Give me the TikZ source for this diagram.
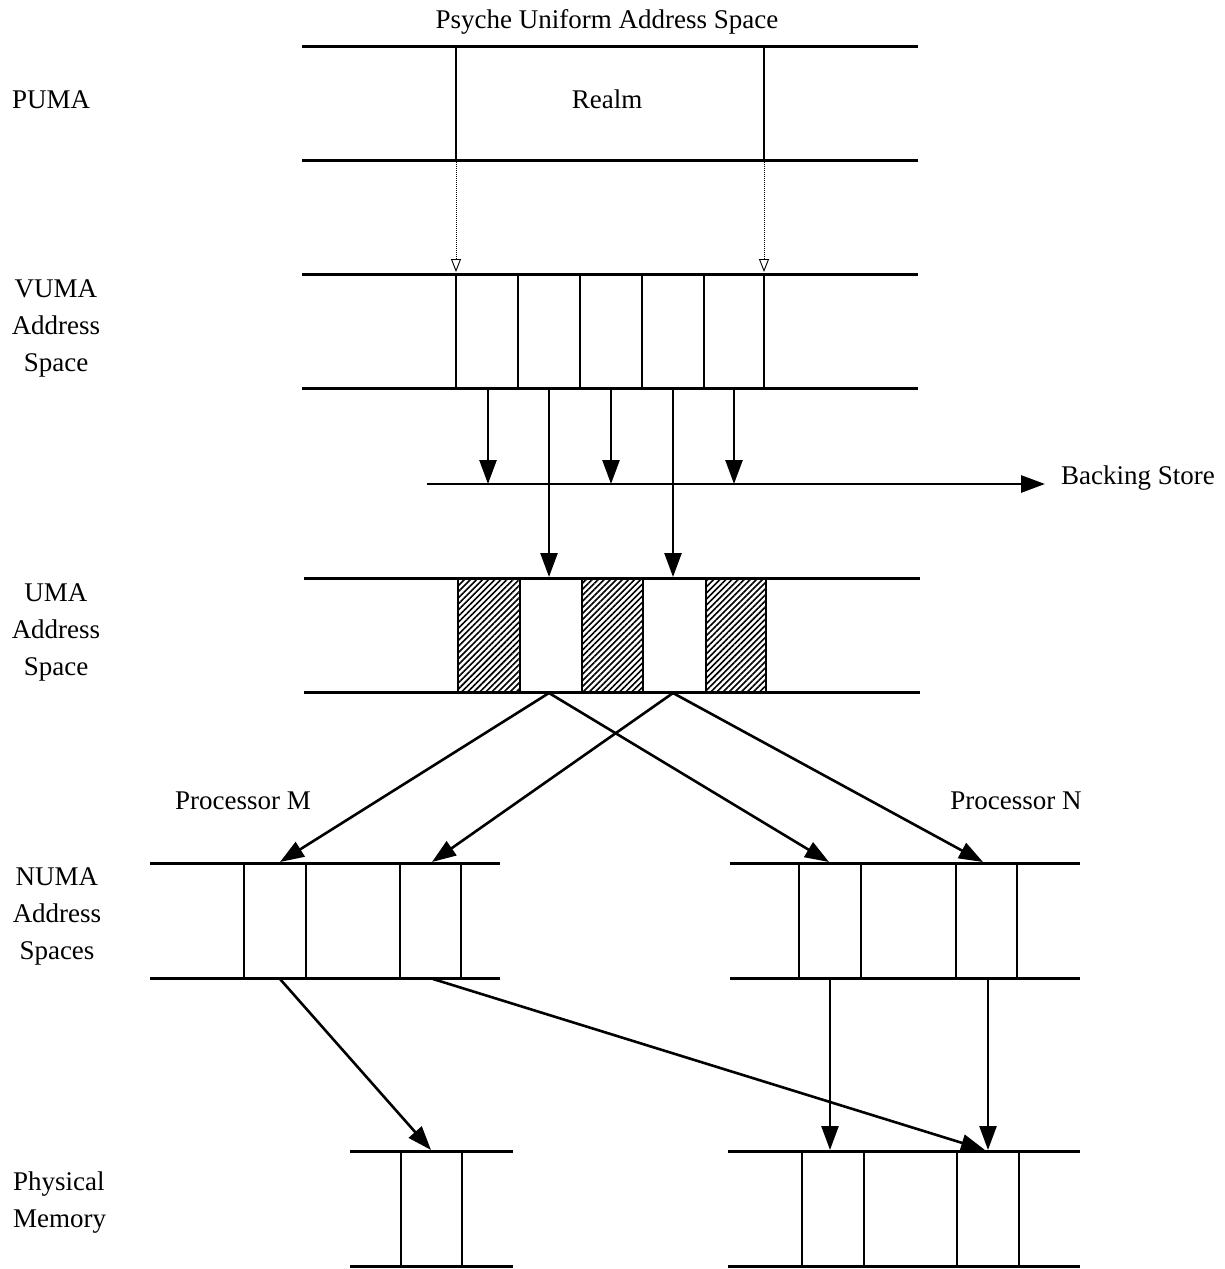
\documentclass[tikz,border=0pt]{standalone}
\usepackage{fontspec}
\setmainfont{Liberation Serif}
\usetikzlibrary{arrows.meta,patterns.meta}
\begin{document}
\begin{tikzpicture}[x=1pt,y=-1pt,
  band/.style={line width=3pt},
  cell/.style={line width=2.5pt},
  arr/.style={line width=2.6pt,-{Triangle[length=24pt,width=17pt]}},
  dotarr/.style={line width=1pt,densely dotted,-{Triangle[length=13pt,width=10pt,open,line width=0.9pt]}},
  hatch/.style={pattern={Lines[angle=45,distance=4.3pt,line width=1.6pt]}},
  lbl/.style={font=\fontsize{27}{37}\selectfont,inner sep=0pt},
  mlbl/.style={lbl,align=center},
  llbl/.style={lbl,align=left,anchor=west}]
\useasboundingbox (0,0) rectangle (1225,1269);

% ---- labels
\node[lbl] (title) at (607,22) {Psyche Uniform Address Space};
\node[llbl] (puma) at (12,100) {PUMA};
\node[lbl] (realm) at (607,99) {Realm};
\node[mlbl] (vuma) at (56,328) {VUMA\\Address\\Space};
\node[mlbl] (uma) at (56,632) {UMA\\Address\\Space};
\node[mlbl] (numa) at (57,916) {NUMA\\Address\\Spaces};
\node[llbl] (phys) at (13,1203) {Physical\\Memory};
\node[lbl] (pm) at (243,801) {Processor M};
\node[lbl] (pn) at (1016,801) {Processor N};
\node[llbl] (bs) at (1061,478) {Backing Store};

% ---- PUMA band
\draw[band] (302,46) -- (918,46);
\draw[band] (302,160) -- (918,160);
\draw[cell] (456,46) -- (456,160);
\draw[cell] (764,46) -- (764,160);

% ---- dotted mapping
\coordinate (p1) at (456,162);
\coordinate (p2) at (764,162);
\coordinate (v1) at (456,272);
\coordinate (v2) at (764,272);
\draw[dotarr] (p1) -- (v1);
\draw[dotarr] (p2) -- (v2);

% ---- VUMA band
\draw[band] (302,274) -- (918,274);
\draw[band] (302,388) -- (918,388);
\foreach \x in {456,518,580,642,704,764} \draw[cell] (\x,274) -- (\x,388);

% ---- backing store
\coordinate (bsl) at (427,484);
\coordinate (bsr) at (1045,484);
\draw[line width=2.8pt,-{Triangle[length=24pt,width=17pt]}] (bsl) -- (bsr);
\foreach \x in {488,611,734}{
  \coordinate (a\x) at (\x,389);
  \coordinate (b\x) at (\x,484);
  \draw[arr] (a\x) -- (b\x);
}

% ---- UMA band
\fill[hatch] (458,578) rectangle (520,692);
\fill[hatch] (582,578) rectangle (643,692);
\fill[hatch] (706,578) rectangle (766,692);
\draw[band] (304,578) -- (920,578);
\draw[band] (304,692) -- (920,692);
\foreach \x in {458,520,582,643,706,766} \draw[cell] (\x,578) -- (\x,692);

\coordinate (s1) at (549,389);
\coordinate (s2) at (673,389);
\coordinate (t1) at (549,577);
\coordinate (t2) at (673,577);
\draw[arr] (s1) -- (t1);
\draw[arr] (s2) -- (t2);

% ---- UMA -> NUMA
\coordinate (u1) at (549,693);
\coordinate (u2) at (673,693);
\coordinate (nm1) at (280,862);
\coordinate (nm2) at (432,862);
\coordinate (nn1) at (829,862);
\coordinate (nn2) at (983,862);
\draw[arr] (u1) -- (nm1);
\draw[arr] (u1) -- (nn1);
\draw[arr] (u2) -- (nm2);
\draw[arr] (u2) -- (nn2);

% ---- NUMA bands
\draw[band] (150,863) -- (500,863);
\draw[band] (150,978) -- (500,978);
\foreach \x in {244,306,400,461} \draw[cell] (\x,863) -- (\x,978);
\draw[band] (730,863) -- (1080,863);
\draw[band] (730,978) -- (1080,978);
\foreach \x in {799,861,956,1017} \draw[cell] (\x,863) -- (\x,978);

% ---- NUMA -> physical
\coordinate (m1) at (280,979);
\coordinate (m2) at (433,979);
\coordinate (n1) at (830,979);
\coordinate (n2) at (988,979);
\coordinate (q1) at (431,1150);
\coordinate (q2) at (985,1150);
\coordinate (r1) at (830,1150);
\coordinate (r2) at (988,1150);
\draw[arr] (m1) -- (q1);
\draw[arr] (m2) -- (q2);
\draw[arr] (n1) -- (r1);
\draw[arr] (n2) -- (r2);

% ---- physical memory
\draw[band] (350,1151) -- (513,1151);
\draw[band] (350,1266) -- (513,1266);
\foreach \x in {401,462} \draw[cell] (\x,1151) -- (\x,1266);
\draw[band] (728,1151) -- (1080,1151);
\draw[band] (728,1266) -- (1080,1266);
\foreach \x in {802,864,957,1019} \draw[cell] (\x,1151) -- (\x,1266);
\end{tikzpicture}
\end{document}
